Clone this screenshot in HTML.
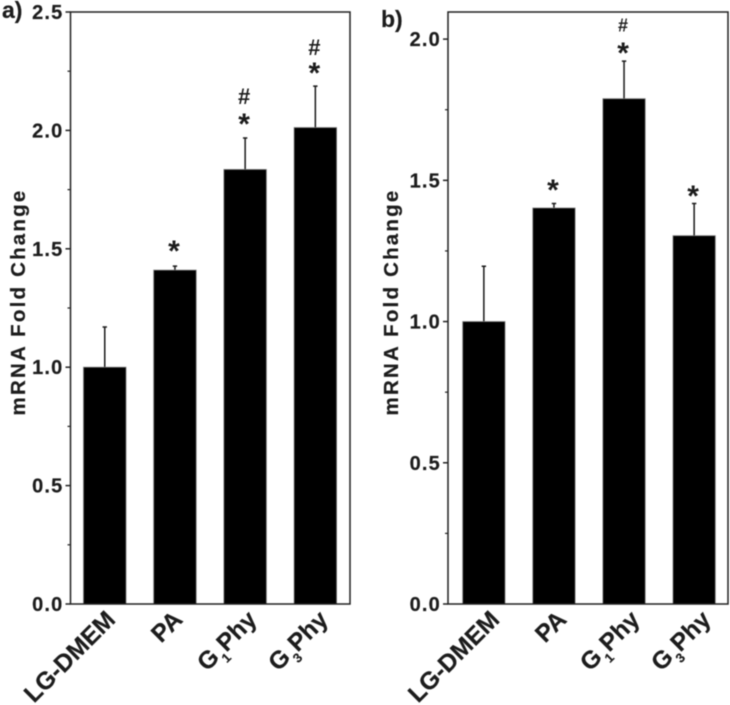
<!DOCTYPE html>
<html>
<head>
<meta charset="utf-8">
<style>
html,body{margin:0;padding:0;background:#fff;width:730px;height:705px;overflow:hidden}
svg{display:block;filter:blur(0.4px)}
text{font-family:"Liberation Sans",sans-serif;font-weight:bold;fill:#1c1c1c;stroke:#1c1c1c;stroke-width:0.2px}
</style>
</head>
<body>
<svg id="chart" width="730" height="705" viewBox="0 0 730 705" xmlns="http://www.w3.org/2000/svg"></svg>
<script>
// Shared category labels: [main, subscript, trailing]
const categoryMain = ["LG-DMEM", "PA", "G", "G"];
const categorySub = ["", "", "1", "3"];
const categoryTail = ["", "", "Phy", "Phy"];

// Panel a data
const valuesA = [1.0, 1.41, 1.835, 2.012];
const errorsA = [0.17, 0.017, 0.133, 0.175];
const marksA = ["", "*", "*#", "*#"];
const tickLabelsA = ["0.0", "0.5", "1.0", "1.5", "2.0", "2.5"];
const minorTicksA = [0.25, 0.75, 1.25, 1.75, 2.25];

// Panel b data
const valuesB = [1.0, 1.402, 1.789, 1.304];
const errorsB = [0.196, 0.016, 0.133, 0.114];
const marksB = ["", "*", "*#", "*"];
const tickLabelsB = ["0.0", "0.5", "1.0", "1.5", "2.0"];
const minorTicksB = [0.25, 0.75, 1.25, 1.75];

const NS = "http://www.w3.org/2000/svg";
const svg = document.getElementById("chart");

function mk(tag, attrs, parent) {
  const el = document.createElementNS(NS, tag);
  for (const k in attrs) el.setAttribute(k, attrs[k]);
  (parent || svg).appendChild(el);
  return el;
}

function drawPanel(cfg) {
  const g = mk("g", {});
  
  
  const y = v => cfg.bottom - (v / cfg.yMax) * (cfg.bottom - cfg.top);
  const barX = i => cfg.firstBar + i * cfg.barStep;

  cfg.values.forEach((v, i) => {
    const cx = barX(i) + cfg.barW / 2;
    const errTop = y(v + cfg.errors[i]);
    const err = mk("path", {
      d: "M" + cx + " " + y(v) + "V" + errTop + "M" + (cx - 2.2) + " " + errTop + "H" + (cx + 2.2),
      stroke: "#1a1a1a", "stroke-width": 1.5, fill: "none"
    }, g);
    
    
    const bar = mk("rect", {
      x: barX(i), y: y(v), width: cfg.barW, height: cfg.bottom - y(v),
      fill: "#000", stroke: "#777", "stroke-width": 0.8
    }, g);
    
    

    if (cfg.marks[i].includes("*")) {
      const star = mk("text", {
        x: cx - 1, y: errTop - cfg.starGap[i] + 14, "text-anchor": "middle", "font-size": 30
      }, g);
      star.textContent = "*";
      star.style.strokeWidth = "0";
      
      
    }
    if (cfg.marks[i].includes("#")) {
      const hash = mk("text", {
        x: cx - 1, y: errTop - cfg.hashGap[i] + cfg.hashSize * 0.36, "text-anchor": "middle", "font-size": cfg.hashSize
      }, g);
      hash.textContent = "#";
      hash.style.strokeWidth = "0";
      
      
    }

    const lx = cx + cfg.labelDx[i], ly = cfg.bottom + 17;
    const lab = mk("text", {
      x: lx, y: ly, "text-anchor": "end", "font-size": 24.5,
      transform: "rotate(-45 " + lx + " " + ly + ")"
    }, g);
    
    
    const t1 = mk("tspan", {}, lab);
    t1.textContent = categoryMain[i];
    if (categorySub[i]) {
      const t2 = mk("tspan", { "font-size": 13, dy: 8, dx: 1 }, lab);
      t2.textContent = categorySub[i];
      const t3 = mk("tspan", { dy: -8 }, lab);
      t3.textContent = categoryTail[i];
    }
  });

  const frame = mk("rect", {
    x: cfg.left, y: cfg.top, width: cfg.right - cfg.left, height: cfg.bottom - cfg.top,
    fill: "none", stroke: "#222", "stroke-width": 1.5
  }, g);
  
  

  cfg.tickLabels.forEach(t => {
    const v = parseFloat(t);
    const tick = mk("line", {
      x1: cfg.left - 5, x2: cfg.left, y1: y(v), y2: y(v), stroke: "#222", "stroke-width": 1.5
    }, g);
    
    
    const label = mk("text", {
      x: cfg.left - 7, y: y(v) + 7, "text-anchor": "end", "font-size": 20, "letter-spacing": 1.2
    }, g);
    label.textContent = t;
    
    
  });
  cfg.minor.forEach(v => {
    const tick = mk("line", {
      x1: cfg.left - 3, x2: cfg.left, y1: y(v), y2: y(v), stroke: "#222", "stroke-width": 1.2
    }, g);
    
    
  });

  const title = mk("text", {
    x: cfg.titleX, y: 302, "text-anchor": "middle", "font-size": 20.5, "letter-spacing": 2.2,
    transform: "rotate(-90 " + cfg.titleX + " 302)"
  }, g);
  title.textContent = "mRNA Fold Change";
  
  

  const tag = mk("text", { x: cfg.tagX, y: cfg.tagY, "font-size": 23 }, g);
  tag.textContent = cfg.id + ")";
  
  
}

drawPanel({
  id: "a", left: 70.5, right: 350, top: 12, bottom: 604, yMax: 2.5,
  firstBar: 83.5, barStep: 70.2, barW: 42.5, hashSize: 22, labelDx: [12, 9, 13, 14],
  starGap: [0, 19, 18, 17], hashGap: [0, 0, 42, 39],
  values: valuesA, errors: errorsA, marks: marksA, tickLabels: tickLabelsA, minor: minorTicksA,
  titleX: 25, tagX: 2, tagY: 18
});
drawPanel({
  id: "b", left: 448, right: 728, top: 12, bottom: 604, yMax: 2.096,
  firstBar: 462.7, barStep: 70.1, barW: 42.3, hashSize: 18, labelDx: [17, 14, 17, 18],
  starGap: [0, 17.5, 12, 11.5], hashGap: [0, 0, 36, 0],
  values: valuesB, errors: errorsB, marks: marksB, tickLabels: tickLabelsB, minor: minorTicksB,
  titleX: 398, tagX: 381, tagY: 27
});
</script>
</body>
</html>
